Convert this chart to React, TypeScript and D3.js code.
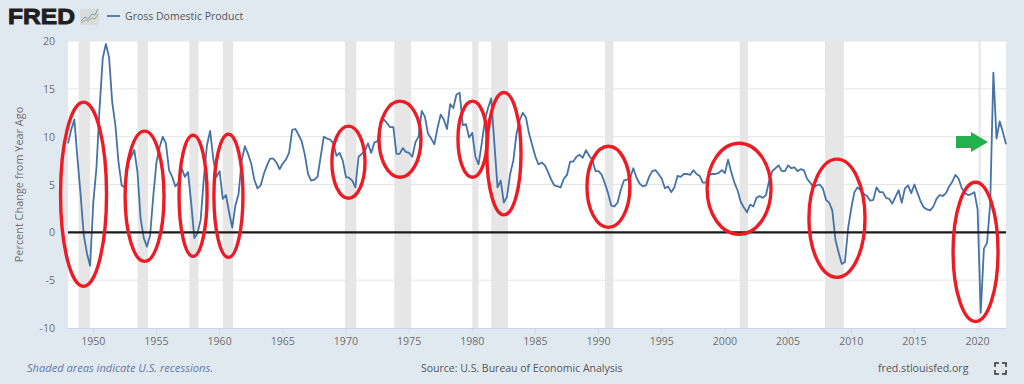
import React, { useEffect, useRef } from "react";
import * as d3 from "d3";

const firstYear = 1948;
const gdpChange: number[] = [
  9.3, 10.7, 11.8, 7.7, 3.9, -0.3, -2.2, -3.5, 3.1, 6.7, 13, 18.2, 19.7, 18.3, 13.6, 11.2,
  7.3, 4.9, 4.7, 7.2, 7.9, 8.6, 6.3, 1.4, -0.6, -1.5, -0.3, 3.8, 7.3, 8.9, 10, 9.3,
  6.5, 5.8, 4.8, 5.2, 6.7, 5.8, 6.3, 3.1, -0.6, -0.1, 1.3, 5.6, 9.1, 10.6, 7.7, 5.8,
  6.4, 3.5, 3.9, 2.1, 0.5, 2.8, 4, 7.5, 9, 8.2, 7.2, 5.5, 4.6, 4.9, 6.1, 7,
  7.7, 7.7, 7.3, 6.6, 7.2, 7.6, 8.3, 10.7, 10.8, 10.2, 9.5, 8.1, 6.1, 5.4, 5.5, 5.8,
  7.9, 10, 9.8, 9.7, 9.3, 8, 8.3, 7.5, 5.8, 5.7, 5.4, 4.7, 7.9, 8.2, 8.5, 9.3,
  8.3, 9.4, 9.5, 11.6, 11.8, 11.4, 11, 11, 8.2, 8.2, 8.8, 8.4, 8.3, 7.9, 9.4, 10,
  12.7, 12.1, 10.3, 9.8, 9.2, 10.9, 12.3, 11.8, 10.8, 13.4, 13, 14.4, 14.6, 11.2, 11.3, 9.9,
  10.4, 7.9, 7.1, 9.3, 11.7, 13, 14, 9.3, 4.7, 5.4, 3.1, 3.7, 6.1, 7.5, 10.3, 11.7,
  12.5, 12, 10.3, 9.1, 7.9, 7.1, 7.3, 7, 6.3, 5.5, 4.9, 4.8, 4.7, 5.6, 6, 7.4,
  7.4, 7.9, 8.1, 7.8, 8.6, 8, 7.6, 6.4, 6.4, 6, 5.1, 4.1, 2.8, 2.7, 3.1, 4.4,
  5.4, 5.5, 5.7, 6.7, 5.7, 5.1, 4.8, 4.9, 5.8, 6.4, 6.5, 6.1, 5.6, 4.6, 4.8, 4.2,
  4.7, 5.9, 5.8, 6.1, 6.1, 6, 6.5, 6.1, 5.9, 5.2, 5.2, 6, 6.1, 6.1, 6.2, 6.5,
  6.2, 7.6, 6.3, 5.2, 4.4, 3.2, 2.6, 2.1, 2.9, 2.7, 3.6, 3.8, 3.6, 3.9, 5.4, 6.4,
  6.7, 7, 6.4, 6.4, 7, 6.7, 6.8, 6.4, 6.6, 6.5, 5.6, 5.2, 4.7, 4.9, 5, 4.6,
  3.4, 3.1, 2.3, -0.8, -2.1, -3.3, -3.1, 0.4, 2.5, 4.2, 4.7, 4.4, 4, 3.8, 3.3, 3.4,
  4.7, 4.2, 4.2, 3.6, 3.5, 3, 3.7, 4.4, 3.1, 4.6, 4.9, 4.1, 5, 4.1, 3.2, 2.6,
  2.4, 2.3, 2.7, 3.5, 3.9, 3.8, 4.1, 4.8, 5.3, 6, 5.6, 4.6, 4.1, 3.9, 4, 4.2,
  2.4, -8.4, -1.7, -1.1, 3, 16.7, 9.8, 11.6, 10.5, 9.2,
];
const recessionStarts = [1948.83, 1953.5, 1957.6, 1960.25, 1969.92, 1973.83, 1980.0, 1981.5, 1990.5, 2001.17, 2007.92, 2020.08];
const recessionEnds = [1949.75, 1954.33, 1958.33, 1961.08, 1970.83, 1975.17, 1980.5, 1982.83, 1991.17, 2001.83, 2009.42, 2020.25];
const xTicks = [1950, 1955, 1960, 1965, 1970, 1975, 1980, 1985, 1990, 1995, 2000, 2005, 2010, 2015, 2020];
const yTicks = [20, 15, 10, 5, 0, -5, -10];
const circleYears = [1949.23, 1954.06, 1957.9, 1960.7, 1970.2, 1974.28, 1980.02, 1982.51, 1990.78, 2001.12, 2008.87, 2019.84];
const circleHalfYears = [1.82, 1.54, 1.11, 1.15, 1.31, 1.66, 1.15, 1.35, 1.7, 2.53, 2.22, 1.78];
const circleValues = [3.98, 3.77, 3.82, 3.82, 7.33, 9.74, 9.74, 8.22, 4.76, 4.55, 1.47, -2.04];
const circleHalfValues = [9.63, 6.81, 6.33, 6.44, 3.77, 3.98, 3.98, 6.39, 4.24, 4.76, 6.18, 7.28];

const W = 1024;
const H = 384;
const FONT = "'Open Sans', sans-serif";

export default function App() {
  const ref = useRef<SVGSVGElement>(null);
  useEffect(() => {
    const svg = d3.select(ref.current!);
    svg.selectAll("*").remove();
    const x = d3.scaleLinear().domain([1948, 2022.25]).range([68, 1006]);
    const y = d3.scaleLinear().domain([-10, 20]).range([328, 41]);

    svg.append("rect").attr("width", W).attr("height", H).attr("fill", "#e1e9f0");
    svg.append("rect").attr("x", 68).attr("y", 41).attr("width", 938).attr("height", 287).attr("fill", "#ffffff");

    // recessions
    recessionStarts.forEach((s, i) => {
      svg.append("rect").attr("x", x(s)).attr("y", 41)
        .attr("width", x(recessionEnds[i]) - x(s)).attr("height", 287).attr("fill", "#e6e6e6");
    });

    // grid
    yTicks.filter((t) => t !== 0 && t !== -10).forEach((t) => {
      svg.append("line").attr("x1", 68).attr("x2", 1006).attr("y1", y(t)).attr("y2", y(t))
        .attr("stroke", "#e6e6e6").attr("stroke-width", 1);
    });
    svg.append("line").attr("x1", 68).attr("x2", 1006).attr("y1", 328.5).attr("y2", 328.5)
      .attr("stroke", "#ccd6eb").attr("stroke-width", 1);

    // y labels
    yTicks.forEach((t) => {
      svg.append("text").attr("x", 55).attr("y", y(t) + 4).attr("text-anchor", "end")
        .attr("font-family", FONT).attr("font-size", 10.6).attr("fill", "#6e6e6e").text(String(t));
    });
    svg.append("text").attr("transform", "translate(23,184.5) rotate(-90)").attr("text-anchor", "middle")
      .attr("font-family", FONT).attr("font-size", 10.9).attr("fill", "#6e6e6e").text("Percent Change from Year Ago");

    // x ticks
    xTicks.forEach((t) => {
      svg.append("line").attr("x1", x(t)).attr("x2", x(t)).attr("y1", 328).attr("y2", 333)
        .attr("stroke", "#ccd6eb");
      svg.append("text").attr("x", x(t)).attr("y", 345).attr("text-anchor", "middle")
        .attr("font-family", FONT).attr("font-size", 10.6).attr("fill", "#6e6e6e").text(String(t));
    });

    // data line
    const line = d3.line<number>()
      .x((_, i) => x(firstYear + i / 4))
      .y((d) => y(d));
    svg.append("path").attr("d", line(gdpChange)!).attr("fill", "none")
      .attr("stroke", "#4572a7").attr("stroke-width", 1.8).attr("stroke-linejoin", "round");

    // zero line
    svg.append("line").attr("x1", 68).attr("x2", 1006).attr("y1", y(0)).attr("y2", y(0))
      .attr("stroke", "#1a1a1a").attr("stroke-width", 2.4);

    // red circles
    circleYears.forEach((c, i) => {
      const cx = x(c);
      const cy = y(circleValues[i]);
      svg.append("ellipse").attr("cx", cx).attr("cy", cy)
        .attr("rx", x(c + circleHalfYears[i]) - cx)
        .attr("ry", y(circleValues[i] - circleHalfValues[i]) - cy)
        .attr("fill", "none").attr("stroke", "#ed1c24").attr("stroke-width", 3.4);
    });

    // green arrow
    svg.append("path")
      .attr("d", "M956,136 L971,136 L971,132 L988,142 L971,152 L971,148 L956,148 Z")
      .attr("fill", "#22b14c");

    // header
    svg.append("text").attr("x", 8).attr("y", 24).attr("font-family", "'Liberation Sans', sans-serif")
      .attr("font-weight", 700).attr("font-size", 22).attr("fill", "#231f20")
      .attr("stroke", "#231f20").attr("stroke-width", 0.9)
      .attr("textLength", 67).attr("lengthAdjust", "spacingAndGlyphs").text("FRED");
    svg.append("rect").attr("x", 80).attr("y", 9).attr("width", 19).attr("height", 16).attr("rx", 1.5).attr("fill", "#d9dcdc");
    svg.append("path").attr("d", "M81,21 L85,17 L88,19 L92,14 L95,15 L98,9").attr("fill", "none").attr("stroke", "#6f8fae").attr("stroke-width", 0.9);
    svg.append("path").attr("d", "M81,23 L85,20 L88,21 L92,18 L95,19 L98,14").attr("fill", "none").attr("stroke", "#8fae6f").attr("stroke-width", 0.9);
    svg.append("line").attr("x1", 107).attr("x2", 120).attr("y1", 16).attr("y2", 16)
      .attr("stroke", "#4572a7").attr("stroke-width", 1.8);
    svg.append("text").attr("x", 125).attr("y", 20).attr("font-family", FONT)
      .attr("font-size", 10.5).attr("fill", "#555555").text("Gross Domestic Product");

    // footer
    svg.append("text").attr("x", 27).attr("y", 372).attr("font-family", FONT).attr("font-style", "italic")
      .attr("font-size", 11.1).attr("fill", "#5f78a8").text("Shaded areas indicate U.S. recessions.");
    svg.append("text").attr("x", 421).attr("y", 372).attr("font-family", FONT)
      .attr("font-size", 10.5).attr("fill", "#555555").text("Source: U.S. Bureau of Economic Analysis");
    svg.append("text").attr("x", 878).attr("y", 372).attr("font-family", FONT)
      .attr("font-size", 10.6).attr("fill", "#555555").text("fred.stlouisfed.org");
    svg.append("path")
      .attr("d", "M995,367 V363 H999 M1002,363 H1006 V367 M1006,370 V374 H1002 M999,374 H995 V370")
      .attr("fill", "none").attr("stroke", "#333333").attr("stroke-width", 1.5);
  }, []);
  return (
    <svg ref={ref} width={W} height={H} style={{ position: "fixed", left: 0, top: 0, display: "block" }} />
  );
}
